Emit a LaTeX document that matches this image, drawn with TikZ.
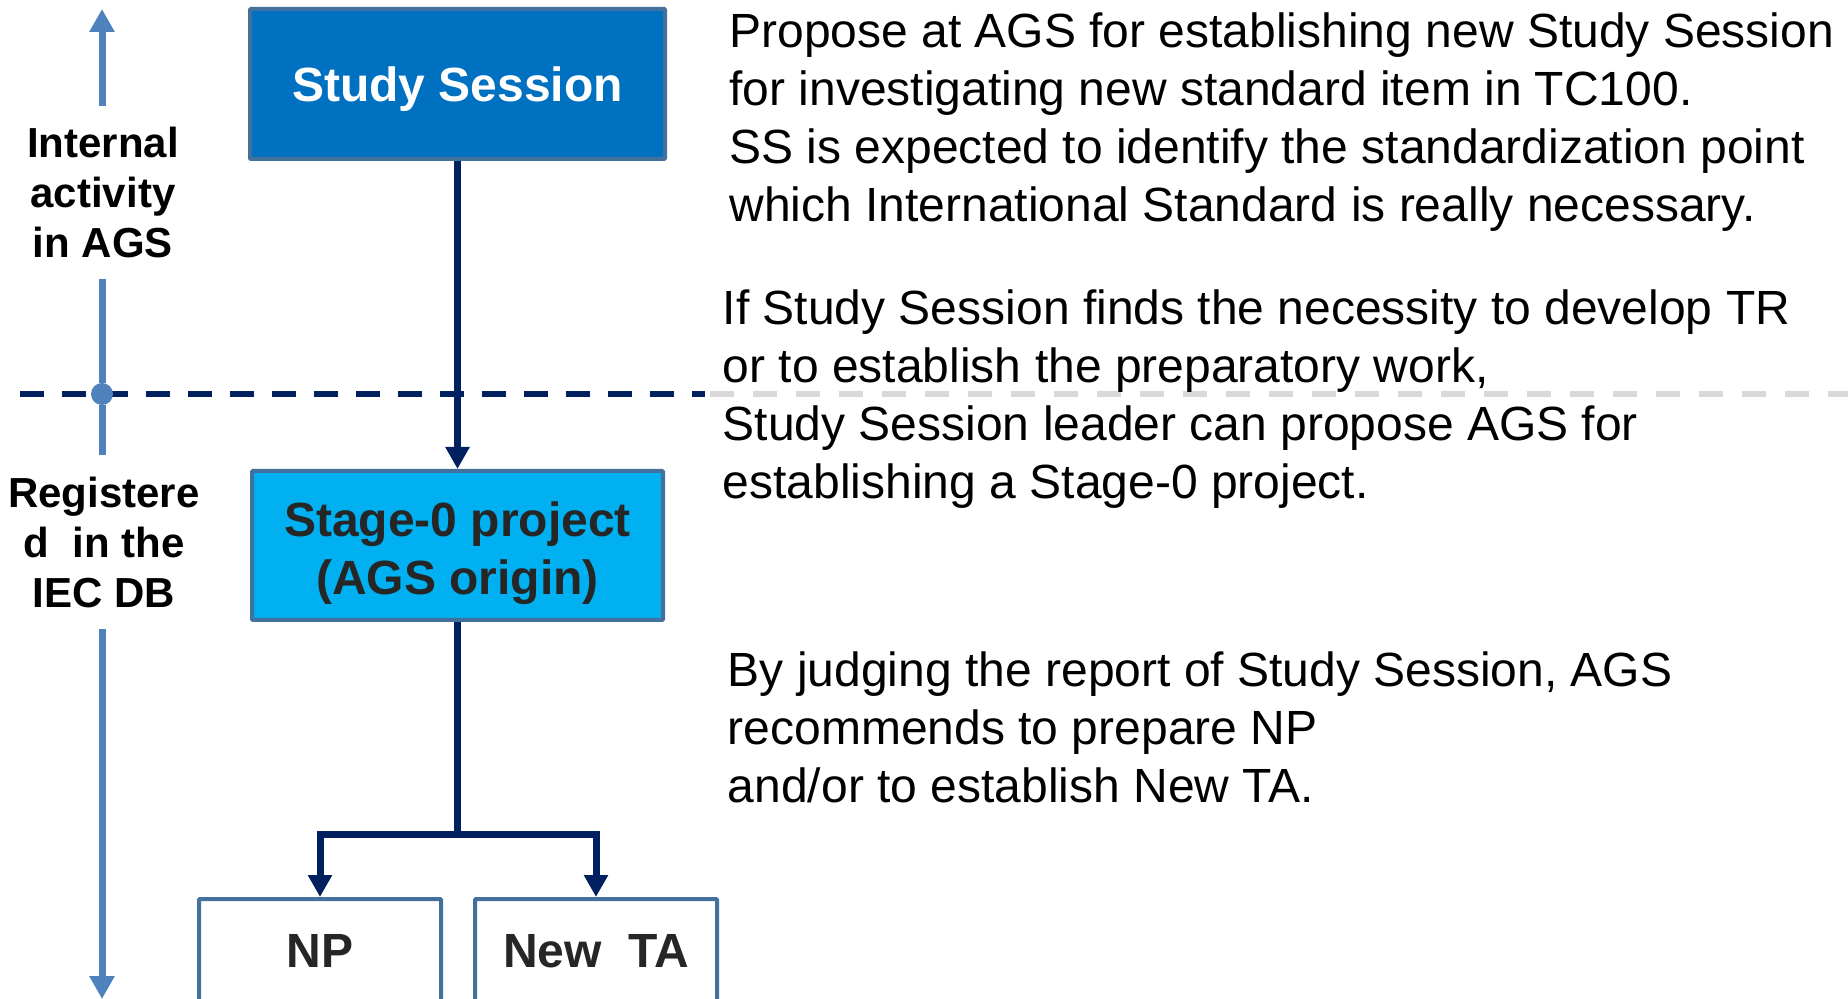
\documentclass[tikz,border=0pt]{standalone}
\usepackage{fontspec}
\setmainfont{Liberation Sans}
\usetikzlibrary{arrows.meta}
\definecolor{ssblue}{HTML}{0070C0}
\definecolor{sozblue}{HTML}{00B0F0}
\definecolor{boxborder}{HTML}{41719C}
\definecolor{navy}{HTML}{002060}
\definecolor{arrowblue}{HTML}{4F81BD}
\definecolor{dashgray}{HTML}{D9D9D9}
\definecolor{darktext}{HTML}{262626}
\begin{document}
\begin{tikzpicture}[x=0.5pt,y=-0.5pt,
  box/.style={draw=boxborder, line width=2pt, rounded corners=0.5pt, inner sep=0pt},
  navyline/.style={draw=navy, line width=3.5pt},
  navyarrow/.style={navyline, -{Triangle[length=11pt,width=11.5pt]}},
  bluearrow/.style={draw=arrowblue, line width=3.5pt, -{Triangle[length=11.5pt,width=12pt]}},
  blueline/.style={draw=arrowblue, line width=3.5pt},
  sidelabel/.style={align=center, font=\bfseries\fontsize{21}{25}\selectfont, inner sep=0pt, anchor=north},
  note/.style={align=left, font=\fontsize{24}{29}\selectfont, inner sep=0pt, anchor=north west},
  boxtext/.style={font=\bfseries\fontsize{24}{29}\selectfont}
]
\clip (0,0) rectangle (1848,999);
% separator
\coordinate (d0) at (20,394);
\coordinate (d1) at (705,394);
\coordinate (g0) at (710,394);
\coordinate (g1) at (1848,394);
\draw[navy, line width=3pt, dash pattern=on 12pt off 9pt] (d0) -- (d1);
\draw[dashgray, line width=3pt, dash pattern=on 12pt off 9.5pt] (g0) -- (g1);
% boxes
\node[box, fill=ssblue, minimum width=207.5pt, minimum height=75pt, text=white, boxtext, text height=18pt, text depth=0pt] (ss) at (457.5,84) {Study Session};
\node[box, fill=sozblue, minimum width=205.5pt, minimum height=74.5pt, text=darktext, boxtext, align=center, text height=49pt, text depth=0pt] (s0) at (457.5,545.5) {Stage-0 project\\(AGS origin)};
\node[box, fill=white, minimum width=121pt, minimum height=70pt, text=darktext, boxtext, text height=8pt, text depth=10pt] (np) at (320,969) {NP};
\node[box, fill=white, minimum width=121pt, minimum height=70pt, text=darktext, boxtext, text height=8pt, text depth=10pt] (ta) at (596,969) {New~~TA};
% connectors
\coordinate (bar) at (457.5,834);
\draw[navyarrow] (ss.south) -- (s0.north);
\draw[navyline] (s0.south) -- (bar);
\draw[navyarrow, line join=miter] (bar) -| (np.north);
\draw[navyarrow, line join=miter] (bar) -| (ta.north);
% side labels
\node[sidelabel] (internal) at (103,127) {Internal\\activity\\in AGS};
\node[sidelabel] (registered) at (104,477) {Registere\\d~~in the\\IEC DB};
\coordinate (a0) at (102,9);
\coordinate (a1) at (102,106);
\coordinate (m1) at (102,279);
\coordinate (m2) at (102,455);
\coordinate (b1) at (102,629);
\coordinate (b2) at (102,999);
\node[circle, fill=arrowblue, minimum size=11pt, inner sep=0pt] (dot) at (102,394) {};
\draw[bluearrow] (a1) -- (a0);
\draw[blueline] (m1) -- (dot);
\draw[blueline] (dot) -- (m2);
\draw[bluearrow] (b1) -- (b2);
% notes
\node[note] (n1) at (729,12.5) {Propose at AGS for establishing new Study Session\\for investigating new standard item in TC100.\\SS is expected to identify the standardization point\\which International Standard is really necessary.};
\node[note] (n2) at (722.5,289.5) {If Study Session finds the necessity to develop TR\\or to establish the preparatory work,\\Study Session leader can propose AGS for\\establishing a Stage-0 project.};
\node[note] (n3) at (727.5,651.5) {By judging the report of Study Session, AGS\\recommends to prepare NP\\and/or to establish New TA.};
\end{tikzpicture}
\end{document}
